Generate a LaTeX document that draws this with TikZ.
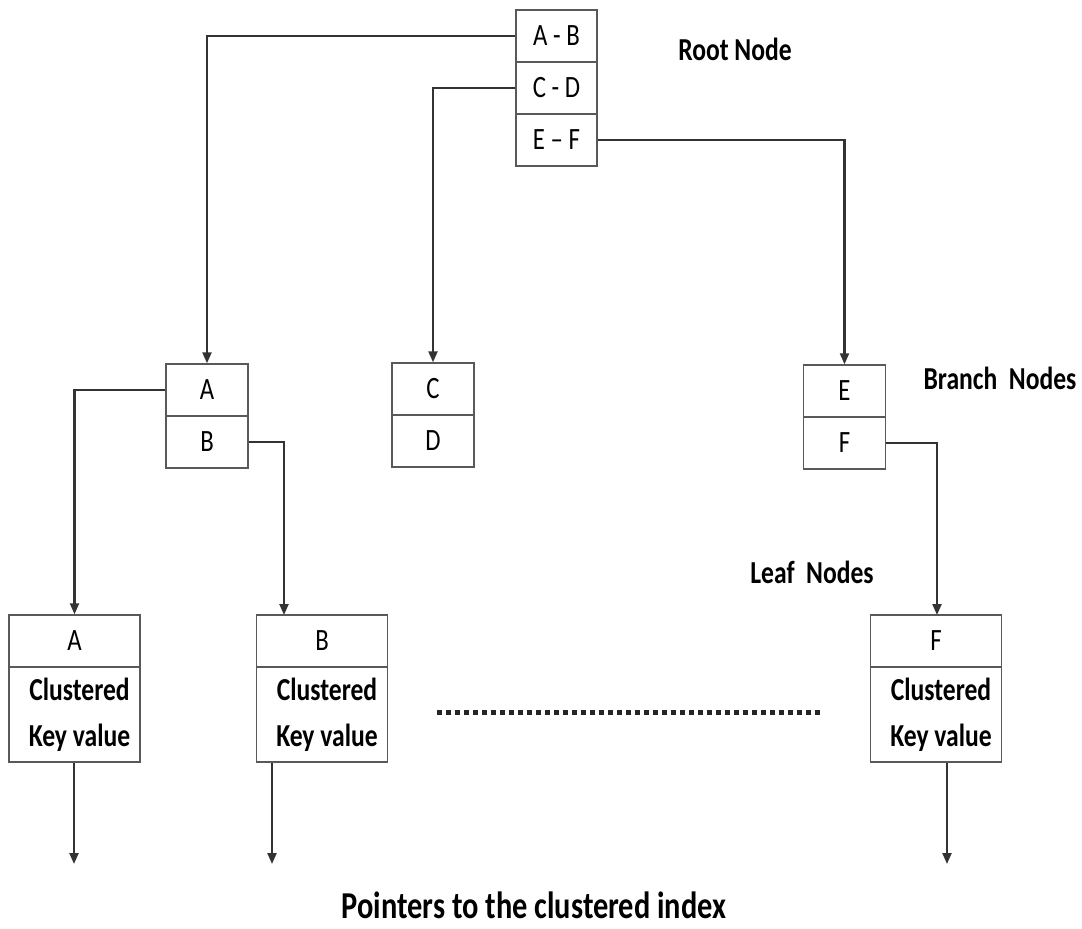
\documentclass[tikz,border=0pt]{standalone}
\usepackage{fontspec}
\newfontfamily\cf[FakeStretch=0.8,Ligatures=TeX]{Carlito}
\usetikzlibrary{arrows.meta}
\begin{document}
\begin{tikzpicture}[x=1pt,y=-1pt,
  cell/.style={draw=black!65,line width=1.4pt,minimum width=#1,inner sep=0pt,font=\cf\fontsize{31}{44}\selectfont},
  rootcell/.style={cell=81pt,minimum height=52pt},
  brcell/.style={cell=82pt,minimum height=52pt},
  leaftop/.style={cell=131pt,minimum height=52pt},
  leafbot/.style={cell=131pt,minimum height=95pt,align=center,font=\cf\bfseries\fontsize{32}{46}\selectfont},
  conn/.style={draw=black!80,line width=2.2pt},
  arr/.style={conn,-{Triangle[width=9pt,length=11pt]}},
  lbl/.style={font=\cf\bfseries\fontsize{32}{40}\selectfont,inner sep=0pt}]
\useasboundingbox (0,0) rectangle (1082,929);
% root
\node[rootcell] (rAB) at (556.5,36) {A - B};
\node[rootcell] (rCD) at (556.5,88) {C - D};
\node[rootcell] (rEF) at (556.5,140) {E \textendash{} F};
% branches
\node[brcell] (bA) at (207,390) {A};
\node[brcell] (bB) at (207,442) {B};
\node[brcell] (bC) at (433,389) {C};
\node[brcell] (bD) at (433,441) {D};
\node[brcell] (bE) at (844.5,391) {E};
\node[brcell] (bF) at (844.5,443) {F};
% leaves
\node[leaftop] (lA) at (74.5,641) {A};
\node[leafbot] (lAk) at (74.5,714.5) {\hspace*{10pt}Clustered\\\hspace*{10pt}Key value};
\node[leaftop] (lB) at (322,641) {B};
\node[leafbot] (lBk) at (322,714.5) {\hspace*{10pt}Clustered\\\hspace*{10pt}Key value};
\node[leaftop] (lF) at (936,641) {F};
\node[leafbot] (lFk) at (936,714.5) {\hspace*{10pt}Clustered\\\hspace*{10pt}Key value};
% connectors
\draw[arr] (rAB.west) -| (bA.north);
\draw[arr] (rCD.west) -| (bC.north);
\draw[arr] (rEF.east) -| (bE.north);
\draw[arr] (bA.west) -| (lA.north);
\coordinate (inB) at (284,615);
\draw[arr] (bB.east) -| (inB);
\coordinate (inF) at (937,615);
\draw[arr] (bF.east) -| (inF);
% pointers out
\coordinate (pA) at (74,864);
\coordinate (pB) at (272,864);
\coordinate (pF) at (947,864);
\draw[arr] (lAk.south -| pA) -- (pA);
\draw[arr] (lBk.south -| pB) -- (pB);
\draw[arr] (lFk.south -| pF) -- (pF);
% dotted
\draw[line width=5pt,dash pattern=on 5pt off 4pt,black!85] (437,712) -- (820,712);
% labels
\node[lbl] (tRoot) at (735,49) {Root Node};
\node[lbl] (tBranch) at (1000,378) {Branch\ \ Nodes};
\node[lbl] (tLeaf) at (812,572) {Leaf\ \ Nodes};
\node[lbl,font=\cf\bfseries\fontsize{38}{40}\selectfont] (tPtr) at (534,905) {Pointers to the clustered index};
\end{tikzpicture}
\end{document}
